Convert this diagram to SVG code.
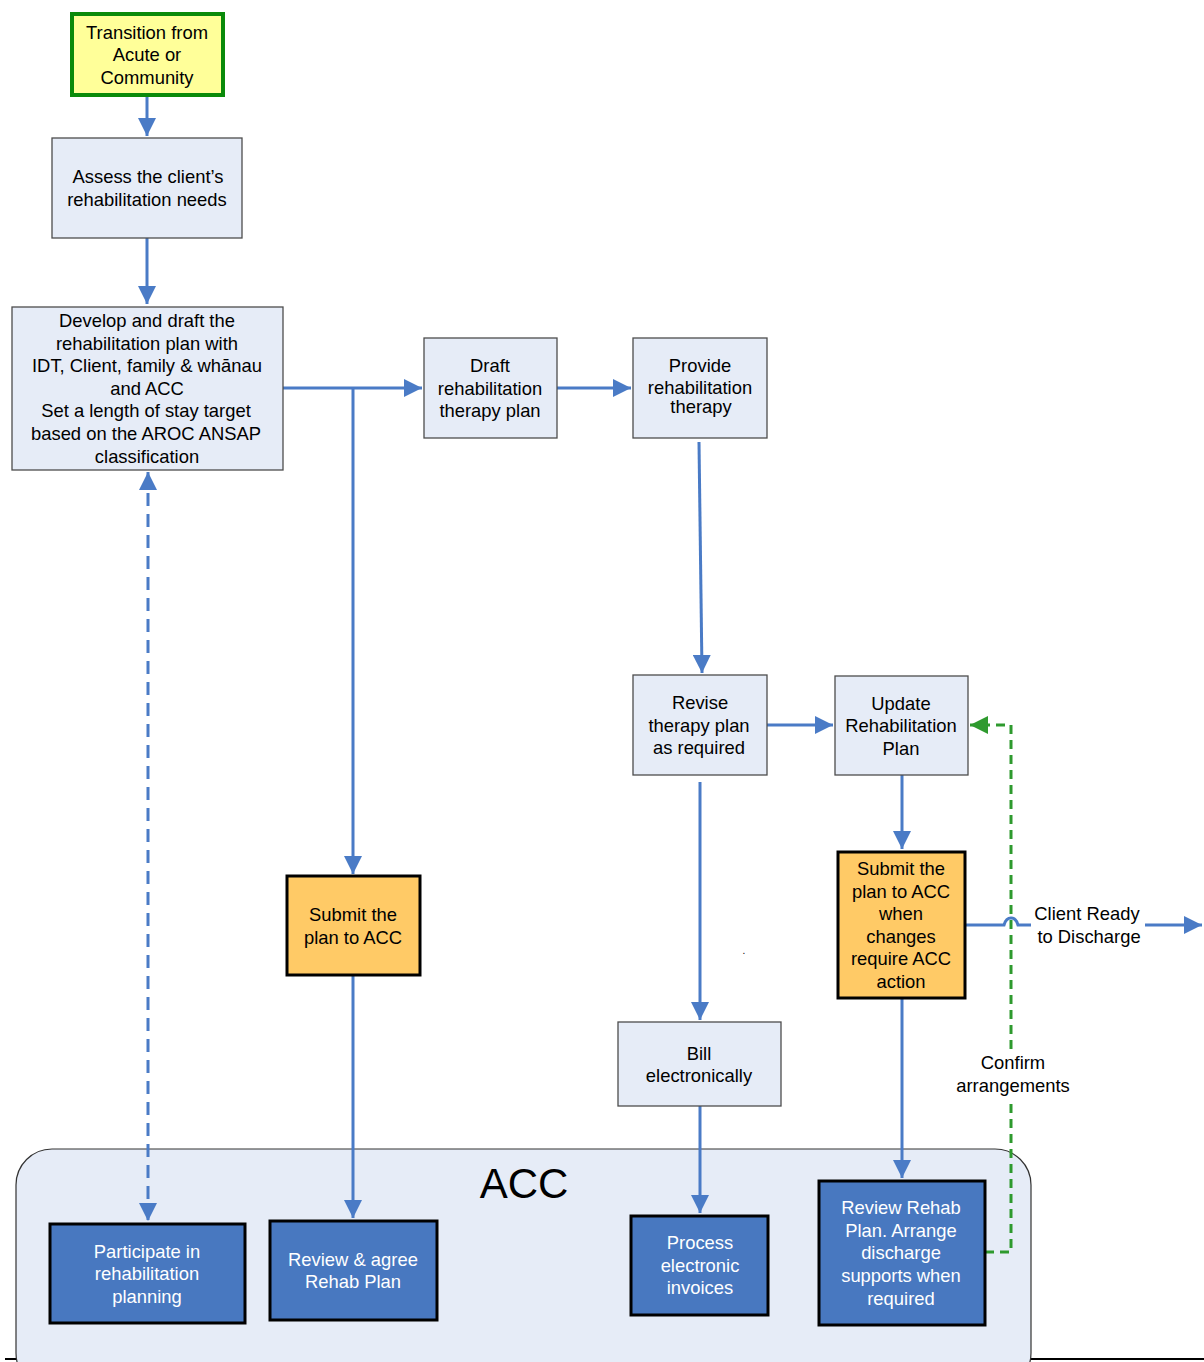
<svg xmlns="http://www.w3.org/2000/svg" width="1204" height="1362" viewBox="0 0 1204 1362">
<defs>
<style>
text{font-family:"Liberation Sans",Arial,sans-serif;font-size:18.4px;fill:#000;text-anchor:middle}
.w{fill:#fff}
.box{fill:#e6ecf7;stroke:#4d4d4d;stroke-width:1.3}
.org{fill:#ffca66;stroke:#000;stroke-width:3}
.acc{fill:#4878c0;stroke:#000;stroke-width:3}
.c{fill:none;stroke:#4a7bc6;stroke-width:3}
.d{stroke-dasharray:13 8}
.g{fill:none;stroke:#2e9a2e;stroke-width:3;stroke-dasharray:9 6}
</style>
<marker id="a" viewBox="0 0 10 10" refX="10" refY="5" markerWidth="6" markerHeight="6" markerUnits="strokeWidth" orient="auto-start-reverse"><path d="M0,0L10,5L0,10z" fill="#4a7bc6"/></marker>
<marker id="ag" viewBox="0 0 10 10" refX="10" refY="5" markerWidth="6" markerHeight="6" markerUnits="strokeWidth" orient="auto"><path d="M0,0L10,5L0,10z" fill="#2e9a2e"/></marker>
</defs>
<rect width="1204" height="1362" fill="#fff"/>
<line x1="5" y1="1359" x2="1204" y2="1359" stroke="#000" stroke-width="2"/>
<g id="acc-lane">
<rect x="16" y="1149" width="1015" height="240" rx="36" fill="#e6ecf7" stroke="#333" stroke-width="1.2"/>
<text x="524" y="1198" style="font-size:42px">ACC</text>
</g>
<g id="connectors">
<line class="c" x1="147" y1="97" x2="147" y2="136" marker-end="url(#a)"/>
<line class="c" x1="147" y1="238" x2="147" y2="304" marker-end="url(#a)"/>
<line class="c" x1="283" y1="388" x2="422" y2="388" marker-end="url(#a)"/>
<line class="c" x1="353" y1="388" x2="353" y2="874" marker-end="url(#a)"/>
<line class="c" x1="557" y1="388" x2="631" y2="388" marker-end="url(#a)"/>
<line class="c" x1="699" y1="442" x2="702" y2="673" marker-end="url(#a)"/>
<line class="c" x1="767" y1="725" x2="833" y2="725" marker-end="url(#a)"/>
<line class="c" x1="902" y1="775" x2="902" y2="849" marker-end="url(#a)"/>
<line class="c" x1="700" y1="782" x2="700" y2="1020" marker-end="url(#a)"/>
<line class="c" x1="700" y1="1106" x2="700" y2="1213" marker-end="url(#a)"/>
<line class="c" x1="353" y1="975" x2="353" y2="1218" marker-end="url(#a)"/>
<line class="c" x1="902" y1="998" x2="902" y2="1178" marker-end="url(#a)"/>
<line class="c d" x1="148" y1="472" x2="148" y2="1221" marker-start="url(#a)" marker-end="url(#a)"/>
<path class="c" d="M966,925H1004Q1006,918 1011,918Q1016,918 1018,925H1031"/>
<line class="c" x1="1145" y1="925" x2="1202" y2="925" marker-end="url(#a)"/>
<text x="1087" y="920">Client Ready</text>
<text x="1089" y="943">to Discharge</text>
<path class="g" d="M985,1252H1011V1098"/>
<path class="g" d="M1011,1049V725H970" marker-end="url(#ag)"/>
<text x="1013" y="1069">Confirm</text>
<text x="1013" y="1092">arrangements</text>
</g>
<g id="n-transition">
<rect x="72" y="14" width="151" height="81" fill="#ffff99" stroke="#0a8a0a" stroke-width="4"/>
<text x="147" y="39">Transition from</text>
<text x="147" y="61">Acute or</text>
<text x="147" y="84">Community</text>
</g>
<g id="n-assess">
<rect class="box" x="52" y="138" width="190" height="100"/>
<text x="148" y="183">Assess the client’s</text>
<text x="147" y="206">rehabilitation needs</text>
</g>
<g id="n-develop">
<rect class="box" x="12" y="307" width="271" height="163"/>
<text x="147" y="327">Develop and draft the</text>
<text x="147" y="350">rehabilitation plan with</text>
<text x="147" y="372">IDT, Client, family &amp; whānau</text>
<text x="147" y="395">and ACC</text>
<text x="146" y="417">Set a length of stay target</text>
<text x="146" y="440">based on the AROC ANSAP</text>
<text x="147" y="463">classification</text>
</g>
<g id="n-draft">
<rect class="box" x="424" y="338" width="133" height="100"/>
<text x="490" y="372">Draft</text>
<text x="490" y="395">rehabilitation</text>
<text x="490" y="417">therapy plan</text>
</g>
<g id="n-provide">
<rect class="box" x="633" y="338" width="134" height="100"/>
<text x="700" y="372">Provide</text>
<text x="700" y="394">rehabilitation</text>
<text x="701" y="413">therapy</text>
</g>
<g id="n-revise">
<rect class="box" x="633" y="675" width="134" height="100"/>
<text x="700" y="709">Revise</text>
<text x="699" y="732">therapy plan</text>
<text x="699" y="754">as required</text>
</g>
<g id="n-update">
<rect class="box" x="835" y="676" width="133" height="99"/>
<text x="901" y="710">Update</text>
<text x="901" y="732">Rehabilitation</text>
<text x="901" y="755">Plan</text>
</g>
<g id="n-submit1">
<rect class="org" x="287" y="876" width="133" height="99"/>
<text x="353" y="921">Submit the</text>
<text x="353" y="944">plan to ACC</text>
</g>
<g id="n-submit2">
<rect class="org" x="838" y="852" width="127" height="146"/>
<text x="901" y="875">Submit the</text>
<text x="901" y="898">plan to ACC</text>
<text x="901" y="920">when</text>
<text x="901" y="943">changes</text>
<text x="901" y="965">require ACC</text>
<text x="901" y="988">action</text>
</g>
<g id="n-bill">
<rect class="box" x="618" y="1022" width="163" height="84"/>
<text x="699" y="1060">Bill</text>
<text x="699" y="1082">electronically</text>
</g>
<text x="744" y="954" style="font-size:10px">.</text>
<g id="n-participate">
<rect class="acc" x="50" y="1224" width="195" height="99"/>
<text class="w" x="147" y="1258">Participate in</text>
<text class="w" x="147" y="1280">rehabilitation</text>
<text class="w" x="147" y="1303">planning</text>
</g>
<g id="n-review-agree">
<rect class="acc" x="270" y="1221" width="167" height="99"/>
<text class="w" x="353" y="1266">Review &amp; agree</text>
<text class="w" x="353" y="1288">Rehab Plan</text>
</g>
<g id="n-process">
<rect class="acc" x="631" y="1216" width="137" height="99"/>
<text class="w" x="700" y="1249">Process</text>
<text class="w" x="700" y="1272">electronic</text>
<text class="w" x="700" y="1294">invoices</text>
</g>
<g id="n-review-rehab">
<rect class="acc" x="819" y="1181" width="166" height="144"/>
<text class="w" x="901" y="1214">Review Rehab</text>
<text class="w" x="901" y="1237">Plan. Arrange</text>
<text class="w" x="901" y="1259">discharge</text>
<text class="w" x="901" y="1282">supports when</text>
<text class="w" x="901" y="1305">required</text>
</g>
</svg>
